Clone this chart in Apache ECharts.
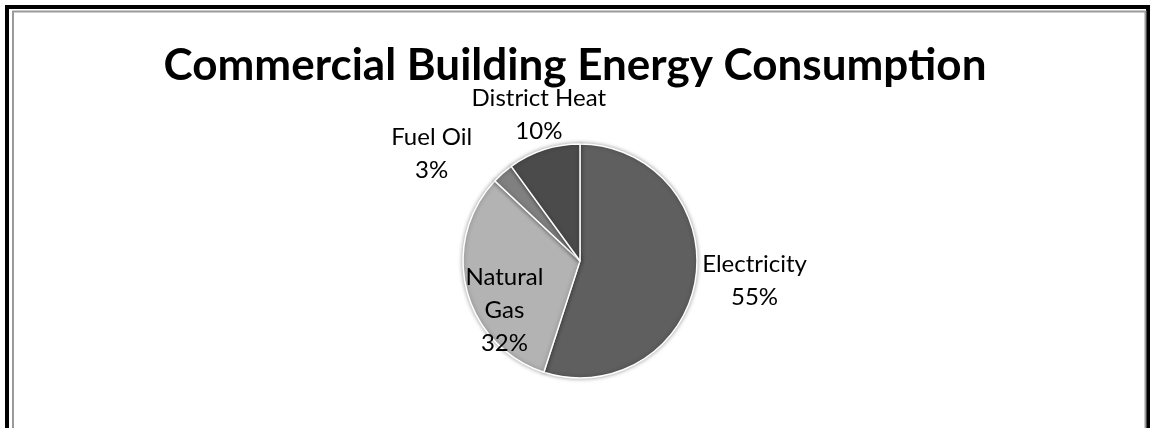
<!DOCTYPE html>
<html>
<head>
<meta charset="utf-8">
<script src="https://cdn.jsdelivr.net/npm/echarts@6/dist/echarts.min.js"></script>
<style>
html,body{margin:0;padding:0;background:#fff;}
#chart{width:1150px;height:428px;}
</style>
</head>
<body>
<div id="chart"></div>
<script>
const chartTitle = 'Commercial Building Energy Consumption';
const categories = ['Electricity', 'Natural Gas', 'Fuel Oil', 'District Heat'];
const labelNames = ['Electricity', 'Natural\nGas', 'Fuel Oil', 'District Heat'];
const values = [55, 32, 3, 10];
const sliceColors = ['#5f5f5f', '#b3b3b3', '#808080', '#4b4b4b'];
// label nudges (offsets from ECharts' default label anchor)
const labelNudges = [[54, 1], [-16, 34], [-66, -19], [0, -35]];

const chart = echarts.init(document.getElementById('chart'), null, {renderer: 'canvas'});

const data = categories.map((c, i) => ({
  name: c,
  value: values[i],
  itemStyle: {color: sliceColors[i]},
  label: {position: i === 1 ? 'inside' : 'outside'}
}));

chart.setOption({
  animation: false,
  backgroundColor: '#fff',
  title: {
    text: chartTitle,
    left: 'center',
    top: 36,
    textStyle: {fontFamily: 'Lato', fontWeight: 'bold', fontSize: 44, color: '#000', lineHeight: 50}
  },
  graphic: [
    {type: 'rect', shape: {x: 7, y: 7, width: 1141, height: 700}, style: {fill: 'none', stroke: '#000', lineWidth: 4}, silent: true},
    {type: 'rect', shape: {x: 13, y: 11.5, width: 1132.5, height: 700}, style: {fill: 'none', stroke: '#9a9a9a', lineWidth: 2}, silent: true}
  ],
  series: [{
    type: 'pie',
    center: [580, 261],
    radius: 117,
    startAngle: 90,
    clockwise: true,
    avoidLabelOverlap: false,
    itemStyle: {borderColor: '#ffffff', borderWidth: 1.5, shadowBlur: 4, shadowColor: 'rgba(0,0,0,0.35)'},
    label: {
      show: true,
      fontFamily: 'Lato',
      fontSize: 24,
      lineHeight: 33,
      color: '#000',
      distanceToLabelLine: 5,
      formatter: p => labelNames[p.dataIndex] + '\n' + Math.round(p.percent) + '%'
    },
    labelLine: {show: false, length: 0, length2: 0},
    labelLayout: p => ({align: 'center', dx: labelNudges[p.dataIndex][0], dy: labelNudges[p.dataIndex][1]}),
    emphasis: {disabled: true},
    data: data
  }]
});
</script>
</body>
</html>
